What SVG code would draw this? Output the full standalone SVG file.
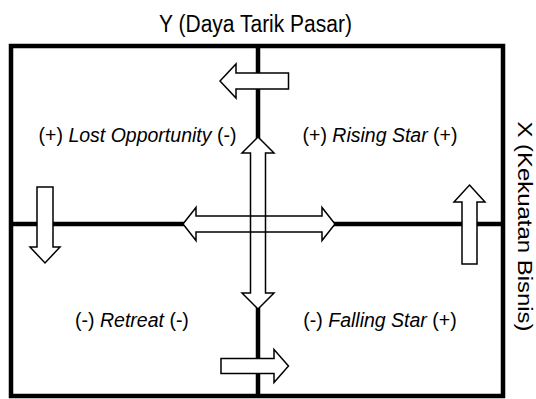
<svg xmlns="http://www.w3.org/2000/svg" width="536" height="399" viewBox="0 0 536 399">
  <style>
    .axis { fill: none; stroke: #000; stroke-width: 4.5; }
    .arrow { fill: #fff; stroke: #000; stroke-width: 1.5; stroke-linejoin: miter; }
    .arrowfill { fill: #fff; stroke: none; }
    .arrowline { fill: none; stroke: #000; stroke-width: 1.5; }
    text { font-family: "Liberation Sans", Arial, sans-serif; fill: #000; }
    .q { font-size: 19.5px; text-anchor: middle; }
    .it { font-style: italic; }
  </style>
  <g id="frame">
    <rect class="axis" x="11" y="46" width="492" height="350"/>
    <line class="axis" x1="258" y1="46" x2="258" y2="396"/>
    <line class="axis" x1="11" y1="224" x2="503" y2="224"/>
  </g>
  <g id="axis-labels">
    <text id="label-y" transform="translate(255.5,32) scale(1,1.1)" font-size="21" text-anchor="middle">Y (Daya Tarik Pasar)</text>
    <text id="label-x" transform="translate(518,226.5) rotate(90)" font-size="21" text-anchor="middle" textLength="210" lengthAdjust="spacingAndGlyphs">X (Kekuatan Bisnis)</text>
  </g>
  <g id="quadrant-lost-opportunity">
    <text class="q" x="137.5" y="142">(+) <tspan class="it">Lost Opportunity</tspan> (-)</text>
  </g>
  <g id="quadrant-rising-star">
    <text class="q" x="380" y="142">(+) <tspan class="it">Rising Star</tspan> (+)</text>
  </g>
  <g id="quadrant-retreat">
    <text class="q" x="132" y="327">(-) <tspan class="it">Retreat</tspan> (-)</text>
  </g>
  <g id="quadrant-falling-star">
    <text class="q" x="380" y="327">(-) <tspan class="it">Falling Star</tspan> (+)</text>
  </g>
  <g id="connectors">
    <polygon class="arrow" points="220,81 236,64 236,73 288.5,73 288.5,89 236,89 236,98"/>
    <polygon class="arrow" points="37,187 53,187 53,247 60,247 45,263 30,247 37,247"/>
    <polygon class="arrow" points="469.5,185 485,202 477,202 477,264 462,264 462,202 454,202"/>
    <polygon class="arrow" points="221,358.5 274,358.5 274,349.5 288.5,366 274,382.5 274,373.5 221,373.5"/>
    <polygon class="arrowfill" points="258,137 274,153 265.5,153 265.5,293 274,293 258,309 242,293 250.5,293 250.5,153 242,153"/>
    <polygon class="arrowfill" points="183,224 196,207.5 196,216 322,216 322,207.5 335,224 322,240.5 322,232 196,232 196,240.5"/>
    <polygon class="arrowline" points="258,137 274,153 265.5,153 265.5,293 274,293 258,309 242,293 250.5,293 250.5,153 242,153"/>
    <polygon class="arrowline" points="183,224 196,207.5 196,216 322,216 322,207.5 335,224 322,240.5 322,232 196,232 196,240.5"/>
  </g>
</svg>
